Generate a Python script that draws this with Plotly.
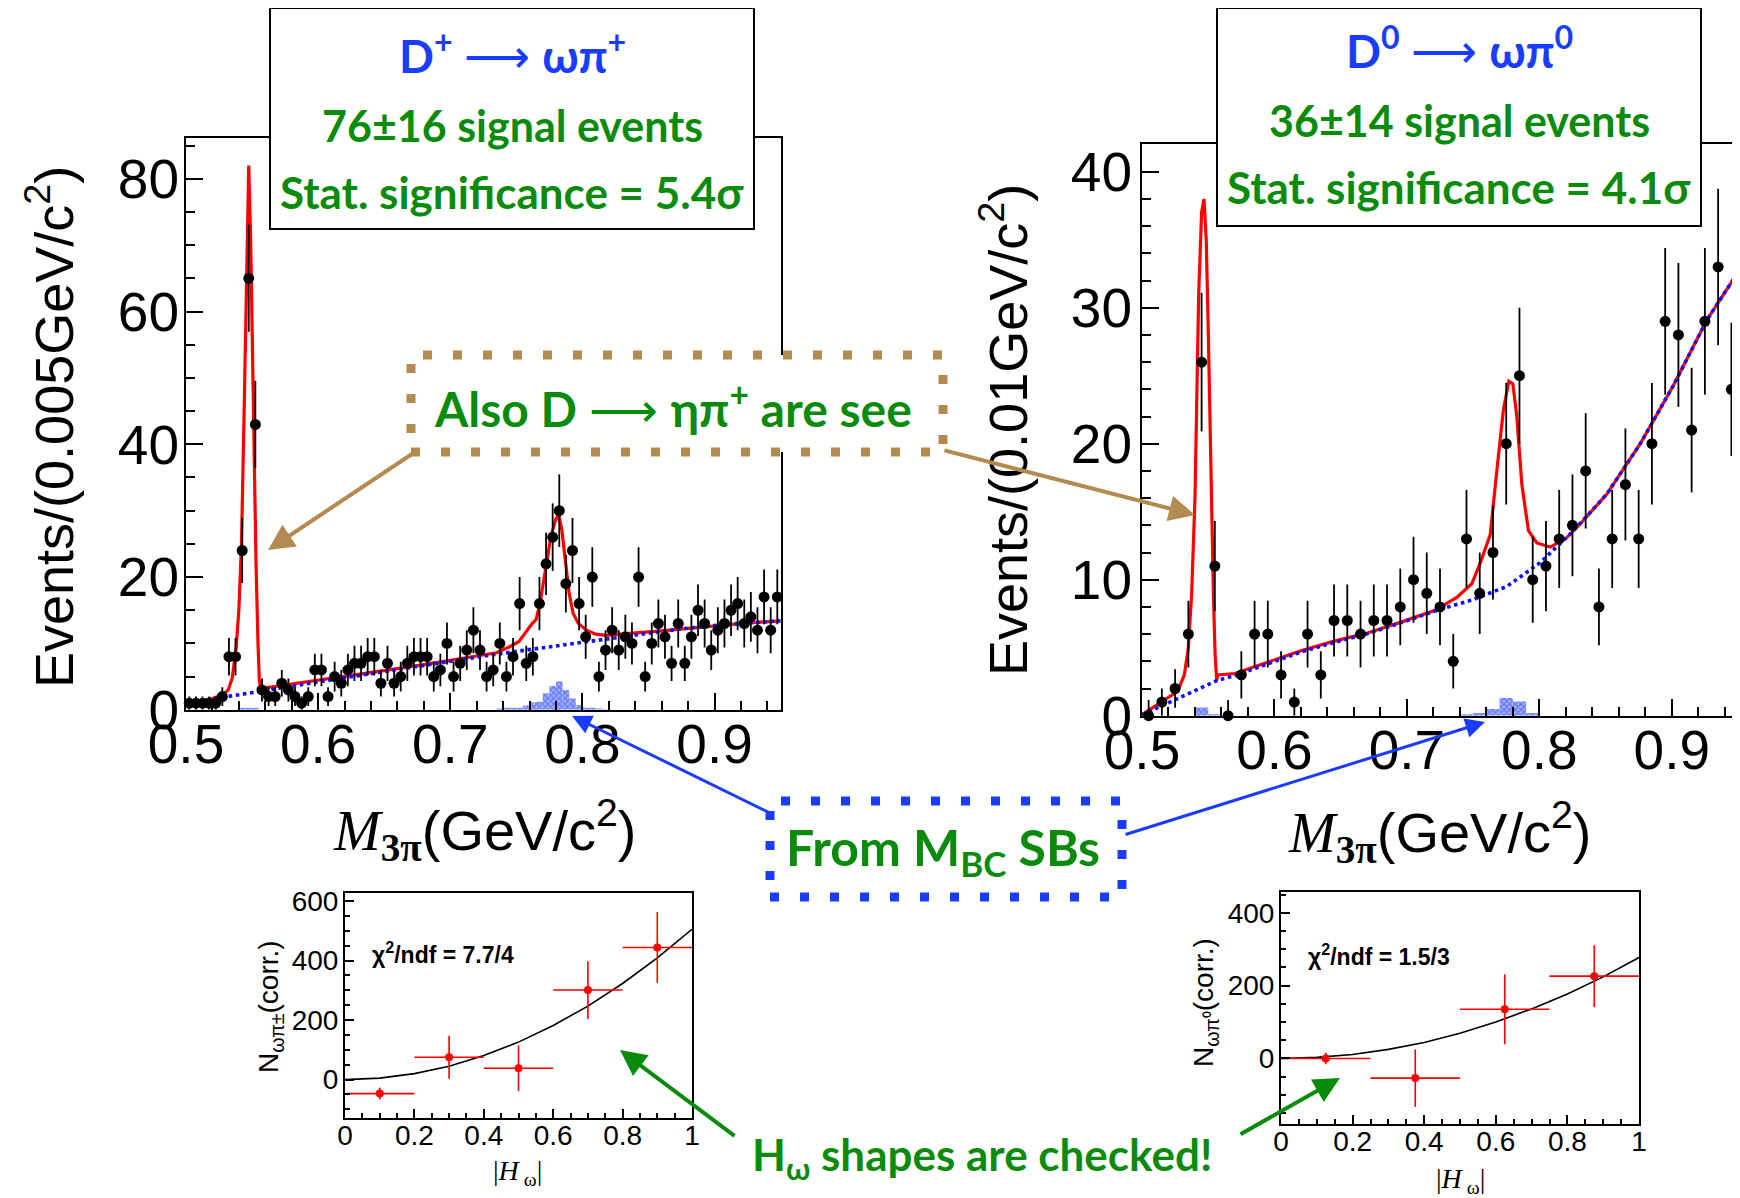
import numpy as np
import plotly.graph_objects as go

W, H = 1740, 1198
OFF = 8  # page body margin of the html page

# ---------------- D+ -> omega pi+ : M(3pi), 0.005 GeV bins ----------------
dp_bin_lo = 0.50
dp_bin_w = 0.005
dp_counts = [1, 1, 1, 1, 1, 2, 8, 8, 24, 65,
             43, 3, 2, 2, 4, 3, 2, 1, 2, 6,
             6, 2, 5, 4, 6, 7, 7, 8, 8, 4,
             7, 4, 5, 7, 8, 8, 8, 5, 6, 10,
             5, 7, 9, 12, 9, 5, 6, 10, 5, 8,
             16, 7, 8, 16, 22, 26, 30, 19, 24, 16,
             11, 20, 5, 9, 12, 9, 11, 10, 20, 5,
             10, 13, 11, 7, 13, 7, 11, 15, 13, 9,
             12, 13, 15, 16, 13, 14, 12, 17, 12, 17]
dp_fit_x = [0.500, 0.510, 0.520, 0.528, 0.532, 0.535, 0.538, 0.540, 0.542, 0.544,
            0.546, 0.5475, 0.549, 0.551, 0.553, 0.5545, 0.5555, 0.5565, 0.560, 0.580,
            0.600, 0.620, 0.640, 0.660, 0.680, 0.700, 0.720, 0.735, 0.745, 0.752,
            0.758, 0.762, 0.765, 0.768, 0.772, 0.776, 0.7795, 0.782, 0.7845, 0.7875,
            0.790, 0.793, 0.797, 0.803, 0.810, 0.818, 0.828, 0.840, 0.860, 0.880,
            0.900, 0.920, 0.950]
dp_fit_y = [0.9, 1.3, 1.7, 2.3, 3.0, 4.8, 9.5, 15, 25, 45,
            70, 82, 70, 45, 22, 10, 4.5, 3.2, 3.3, 3.9,
            4.4, 5.0, 5.6, 6.2, 6.8, 7.4, 8.1, 8.6, 9.5, 10.3,
            12.0, 13.0, 13.6, 16.2, 21, 26, 28.5, 29.5, 27, 21.5,
            17.5, 14.5, 13.0, 12.0, 11.4, 11.2, 11.4, 11.6, 11.9, 12.3,
            12.7, 13.0, 13.4]
dp_bkg_x = [0.50, 0.52, 0.54, 0.56, 0.60, 0.65, 0.70, 0.7227, 0.75, 0.775,
            0.80, 0.825, 0.85, 0.875, 0.90, 0.925, 0.95]
dp_bkg_y = [1.0, 1.6, 2.3, 2.9, 4.2, 5.8, 7.3, 8.0, 8.8, 9.5,
            10.2, 10.85, 11.6, 12.2, 12.7, 13.05, 13.4]
dp_sb_x = [0.5425, 0.5475, 0.5525, 0.7375, 0.7425, 0.7475, 0.7525, 0.7575, 0.7625, 0.7675,
           0.7725, 0.7775, 0.7825, 0.7875, 0.7925, 0.7975, 0.8025, 0.8075, 0.8125, 0.8175]
dp_sb_y = [0.3, 0.3, 0.3, 0.2, 0.3, 0.3, 0.3, 0.65, 1.1, 1.2,
           2.5, 3.6, 4.25, 3.0, 1.7, 0.7, 0.3, 0.3, 0.2, 0.1]

# ---------------- D0 -> omega pi0 : M(3pi), 0.01 GeV bins ----------------
d0_bin_lo = 0.50
d0_bin_w = 0.01
d0_counts = [0, 1, 2, 6, 26, 11, 0, 3, 6, 6,
             3, 1, 6, 3, 7, 7, 6, 7, 7, 8,
             10, 9, 8, 4, 13, 9, 12, 20, 25, 10,
             11, 13, 14, 18, 8, 13, 17, 13, 20, 29,
             28, 21, 29, 33, 24]
d0_fit_x = [0.500, 0.515, 0.527, 0.532, 0.535, 0.5375, 0.540, 0.5428, 0.545, 0.5468,
            0.5485, 0.5501, 0.5514, 0.5527, 0.5539, 0.5552, 0.5564, 0.5572, 0.5702, 0.5954,
            0.6206, 0.6458, 0.6709, 0.6961, 0.7213, 0.7377, 0.749, 0.7553, 0.7629, 0.7679,
            0.7729, 0.7770, 0.7800, 0.7830, 0.7868, 0.7918, 0.7981, 0.8082, 0.8208, 0.8308,
            0.851, 0.8762, 0.9013, 0.9265, 0.950]
d0_fit_y = [0.07, 1.0, 1.8, 3.0, 5.0, 9.0, 16, 31, 37, 38,
            35, 28, 20.6, 14, 9, 4.5, 2.6, 3.0, 3.1, 3.95,
            4.8, 5.5, 6.1, 6.9, 7.75, 8.7, 9.7, 11.2, 13.3, 18.0,
            22.5, 24.6, 24.4, 22.0, 17, 13.6, 12.7, 12.4, 13.1, 14.1,
            16.3, 20.0, 24.3, 29.1, 32.6]
d0_bkg_x = [0.50, 0.527, 0.557, 0.5702, 0.5954, 0.6206, 0.6458, 0.6709, 0.6961, 0.7213,
            0.7503, 0.7754, 0.8006, 0.8258, 0.851, 0.8762, 0.9013, 0.9265, 0.95]
d0_bkg_y = [0.07, 1.3, 2.6, 2.95, 3.85, 4.7, 5.4, 6.05, 6.85, 7.7,
            8.55, 9.5, 11.25, 13.6, 16.3, 20.0, 24.3, 29.1, 32.6]
d0_sb_x = [0.545, 0.555, 0.745, 0.755, 0.765, 0.775, 0.785, 0.795]
d0_sb_y = [0.6, 0.1, 0.1, 0.2, 0.5, 1.3, 1.05, 0.2]

# ---------------- insets: yields vs |H_omega| ----------------
hp_x = [0.1, 0.3, 0.5, 0.7, 0.9]
hp_xerr = [0.1, 0.1, 0.1, 0.1, 0.1]
hp_y = [-47, 75, 38, 301, 444]
hp_yerr = [20, 72, 77, 97, 119]
hp_fit_x = [0.0, 0.1, 0.2, 0.3, 0.4, 0.5, 0.6, 0.7, 0.8, 0.9, 1.0]
hp_fit_y = [0, 5, 20, 45, 81, 126, 182, 247, 323, 409, 505]

h0_x = [0.125, 0.375, 0.625, 0.875]
h0_xerr = [0.125, 0.125, 0.125, 0.125]
h0_y = [0, -54, 135, 226]
h0_yerr = [16, 79, 96, 85]
h0_fit_x = [0.0, 0.1, 0.2, 0.3, 0.4, 0.5, 0.6, 0.7, 0.8, 0.9, 1.0]
h0_fit_y = [0, 2.8, 11, 25, 44, 69, 100, 136, 177, 224, 277]

# ---------------- styling ----------------
BLUE = "#1a3cff"
GREEN = "#0b8b0b"
BROWN = "#b38a4f"
RED = "#ff0000"
SANS = "Liberation Sans, Arial, sans-serif"
SERIF = "Liberation Serif, Times New Roman, serif"
CAL = "Lato, Noto Sans, sans-serif"


def px(x):
    return (x - OFF) / W


def py(y):
    return 1 - (y - OFF) / H


def centers(lo, w, n):
    return lo + w * (np.arange(n) + 0.5)


def errs(counts):
    return [float(np.sqrt(c)) if c > 0 else 1.15 for c in counts]


fig = go.Figure()


def add_main(xa, ya, lo, w, counts, fit_x, fit_y, bkg_x, bkg_y, sb_x, sb_y):
    fig.add_trace(go.Bar(
        x=sb_x, y=sb_y, width=w, xaxis=xa, yaxis=ya,
        marker=dict(color="rgba(110,130,255,0.6)", line=dict(width=0),
                    pattern=dict(shape="x", fgcolor="#1f3cff", size=4, solidity=0.6)),
        hoverinfo="skip"))
    fig.add_trace(go.Scatter(x=fit_x, y=fit_y, mode="lines", xaxis=xa, yaxis=ya,
                             line=dict(color=RED, width=3.2)))
    fig.add_trace(go.Scatter(x=bkg_x, y=bkg_y, mode="lines", xaxis=xa, yaxis=ya,
                             line=dict(color="#1010ff", width=3.6, dash="dot")))
    fig.add_trace(go.Scatter(
        x=centers(lo, w, len(counts)), y=counts, mode="markers", xaxis=xa, yaxis=ya,
        cliponaxis=False,
        marker=dict(color="black", size=11),
        error_y=dict(type="data", array=errs(counts), color="black", thickness=1.8, width=0)))


add_main("x", "y", dp_bin_lo, dp_bin_w, dp_counts, dp_fit_x, dp_fit_y,
         dp_bkg_x, dp_bkg_y, dp_sb_x, dp_sb_y)
add_main("x2", "y2", d0_bin_lo, d0_bin_w, d0_counts, d0_fit_x, d0_fit_y,
         d0_bkg_x, d0_bkg_y, d0_sb_x, d0_sb_y)


def add_inset(xa, ya, x, xe, y, ye, fx, fy):
    fig.add_trace(go.Scatter(x=fx, y=fy, mode="lines", xaxis=xa, yaxis=ya,
                             line=dict(color="black", width=1.6)))
    fig.add_trace(go.Scatter(
        x=x, y=y, mode="markers", xaxis=xa, yaxis=ya,
        marker=dict(color=RED, size=8),
        error_x=dict(type="data", array=xe, color=RED, thickness=1.6, width=0),
        error_y=dict(type="data", array=ye, color=RED, thickness=1.6, width=0)))


add_inset("x3", "y3", hp_x, hp_xerr, hp_y, hp_yerr, hp_fit_x, hp_fit_y)
add_inset("x4", "y4", h0_x, h0_xerr, h0_y, h0_yerr, h0_fit_x, h0_fit_y)


def axis(domain, rng, tick0, dtick, mdtick, fsize, tlen, mlen, standoff, anchor, lw=2):
    return dict(domain=domain, range=rng, tick0=tick0, dtick=dtick, anchor=anchor,
                automargin=False,
                ticks="inside", ticklen=tlen, tickwidth=2, tickcolor="black",
                showline=True, linecolor="black", linewidth=lw, mirror=True,
                showgrid=False, zeroline=False, fixedrange=True,
                tickfont=dict(family=SANS, size=fsize, color="black"),
                ticklabelstandoff=standoff,
                minor=dict(tick0=tick0, dtick=mdtick, ticks="inside", ticklen=mlen,
                           tickwidth=2, tickcolor="black", showgrid=False))


layout = dict(
    width=W, height=H, margin=dict(l=0, r=0, t=0, b=0, pad=0), autosize=False,
    paper_bgcolor="white", plot_bgcolor="white", showlegend=False,
    barmode="overlay",
    xaxis=axis([px(186), px(780.6)], [0.5, 0.95], 0.5, 0.1, 0.02, 55, 17, 9, -15, "y"),
    yaxis=axis([py(709.8), py(138.3)], [0, 86.1], 0, 20, 5, 55, 17, 9, -6, "x"),
    xaxis2=axis([px(1142), px(1738)], [0.5, 0.95], 0.5, 0.1, 0.02, 55, 17, 9, -15, "y2"),
    yaxis2=axis([py(715.7), py(144)], [0, 42.04], 0, 10, 2, 55, 17, 9, -3, "x2"),
    xaxis3=axis([px(345), px(692)], [0, 1], 0, 0.2, 0.05, 28, 9, 5, -9, "y3"),
    yaxis3=axis([py(1118), py(893)], [-129, 627], 0, 200, 50, 28, 9, 5, -1, "x3"),
    xaxis4=axis([px(1281), px(1639)], [0, 1], 0, 0.2, 0.05, 28, 9, 5, -9, "y4"),
    yaxis4=axis([py(1124), py(892)], [-180, 457], 0, 200, 50, 28, 9, 5, -1, "x4"),
)
fig.update_layout(**layout)

shapes = []
# text boxes
for (x0, y0, x1, y1) in [(270, 8, 754, 229), (1217, 8, 1701, 226)]:
    shapes.append(dict(type="rect", xref="paper", yref="paper", layer="above",
                       x0=px(x0), x1=px(x1), y0=py(y1), y1=py(y0),
                       line=dict(color="black", width=2), fillcolor="white"))
shapes.append(dict(type="rect", xref="paper", yref="paper", layer="above",
                   x0=px(411), x1=px(943), y0=py(452), y1=py(355),
                   line=dict(color=BROWN, width=9, dash="9px,21px"), fillcolor="white"))
shapes.append(dict(type="rect", xref="paper", yref="paper", layer="above",
                   x0=px(770), x1=px(1122), y0=py(897), y1=py(801),
                   line=dict(color=BLUE, width=9, dash="9px,21px"), fillcolor="white"))
fig.update_layout(shapes=shapes)

ann = []


def text(x, y, t, size, color, family=CAL, angle=0, xanchor="center"):
    ann.append(dict(xref="paper", yref="paper", x=px(x), y=py(y), text=t,
                    showarrow=False, xanchor=xanchor, yanchor="middle", textangle=angle,
                    font=dict(family=family, size=size, color=color)))


def arrow(hx, hy, tx, ty, color, width, size=1.3):
    ann.append(dict(xref="paper", yref="paper", x=px(hx), y=py(hy), ax=tx - hx, ay=ty - hy,
                    axref="pixel", ayref="pixel", text="", showarrow=True,
                    arrowhead=2, arrowsize=size, arrowwidth=width, arrowcolor=color,
                    standoff=0, startstandoff=0))


# box 1
text(512, 53, "<b>D<sup>+</sup></b> ⟶ <b>ωπ<sup>+</sup></b>", 46, BLUE)
text(512, 125, "<b>76±16 signal events</b>", 43, GREEN)
text(512, 192, "<b>Stat. significance = 5.4σ</b>", 44, GREEN)
# box 2
text(1459, 48, "<b>D<sup>0</sup></b> ⟶ <b>ωπ<sup>0</sup></b>", 46, BLUE)
text(1459, 121, "<b>36±14 signal events</b>", 43, GREEN)
text(1459, 187, "<b>Stat. significance = 4.1σ</b>", 44, GREEN)
# callouts
text(673, 405, "<b>Also D</b> ⟶ <b>ηπ<sup>+</sup> are see</b>", 48, GREEN)
text(943, 850, "<b>From M<sub>BC</sub> SBs</b>", 50, GREEN)
text(982, 1157, "<b>H<sub>ω</sub> shapes are checked!</b>", 44, GREEN)

# axis titles
text(50, 427, "Events/(0.005GeV/c<sup>2</sup>)", 54, "black", SANS, -90)
text(1004, 430, "Events/(0.01GeV/c<sup>2</sup>)", 54, "black", SANS, -90)
mt = ("<span style='font-family:Liberation Serif'><i>M</i></span>"
      "<sub><span style='font-family:Liberation Serif'><b>3π</b></span></sub>(GeV/c<sup>2</sup>)")
text(484, 830, mt, 56, "black", SANS)
text(1439, 832, mt, 56, "black", SANS)
text(270, 1007, "N<sub>ωπ±</sub>(corr.)", 28, "black", SANS, -90)
text(1205, 1003, "N<sub>ωπ⁰</sub>(corr.)", 28, "black", SANS, -90)
hw = "|<i>H</i><sub> ω</sub>|"
text(518, 1172, hw, 28, "black", SERIF)
text(1460, 1180, hw, 28, "black", SERIF)
text(370, 953, "<b>χ<sup>2</sup>/ndf = 7.7/4</b>", 23, "black", SANS, 0, "left")
text(1306, 955, "<b>χ<sup>2</sup>/ndf = 1.5/3</b>", 23, "black", SANS, 0, "left")

# arrows
arrow(268, 550, 415, 452, BROWN, 4)
arrow(1195, 515, 943, 450, BROWN, 4)
arrow(572, 716, 770, 813, BLUE, 3)
arrow(1485, 722, 1124, 835, BLUE, 3)
arrow(620, 1050, 736, 1137, GREEN, 4)
arrow(1340, 1078, 1239, 1135, GREEN, 4)

fig.update_layout(annotations=ann)

fig.write_html("out.html")
